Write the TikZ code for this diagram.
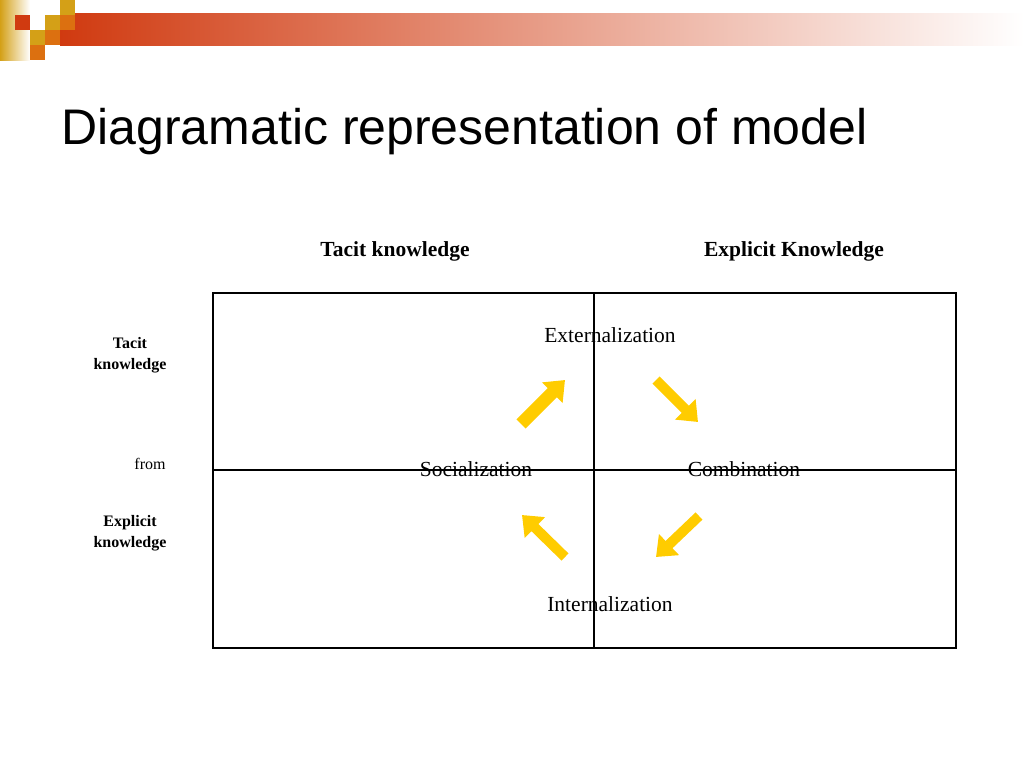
\documentclass[tikz,border=0pt]{standalone}
\usepackage{fontspec}
\setmainfont{Liberation Serif}
\newfontfamily\titlefont{Liberation Sans}
\usetikzlibrary{arrows.meta}
\definecolor{gold}{HTML}{D4A017}
\definecolor{redor}{HTML}{D03A10}
\definecolor{oran}{HTML}{DC7010}
\definecolor{arr}{HTML}{FFCC00}
\begin{document}
\begin{tikzpicture}[x=1pt,y=-1pt,
  lbl/.style={font=\fontsize{21.5}{26}\selectfont},
  hdr/.style={font=\bfseries\fontsize{21.5}{26}\selectfont},
  side/.style={font=\bfseries\fontsize{16}{21}\selectfont,align=center},
  grid/.style={line width=2.6pt},
  yarr/.style={draw=arr,line width=#1,-{Triangle[length=18pt,width=28pt]}}]
\useasboundingbox (0,0) rectangle (1024,768);
% header decoration
\shade[left color=redor,right color=white] (60,14) rectangle (1024,46);
\shade[left color=gold,right color=white] (0,0) rectangle (30,60);
\fill[redor] (15,15) rectangle (30,30);
\fill[gold] (60,0) rectangle (75,15);
\fill[gold] (45,15) rectangle (60,30);
\fill[oran] (60,15) rectangle (75,30);
\fill[gold] (30,30) rectangle (45,45);
\fill[oran] (45,30) rectangle (60,45);
\fill[oran] (30,45) rectangle (45,60);
\node[anchor=west,font=\titlefont\fontsize{50}{56}\selectfont] (title) at (58,132) {Diagramatic representation of model};
% headers
\node[hdr] (tk) at (395,251) {Tacit knowledge};
\node[hdr] (ek) at (794,251) {Explicit Knowledge};
\node[side] (stk) at (130,355) {Tacit\\knowledge};
\node[font=\fontsize{16}{19}\selectfont] (from) at (150,464) {from};
\node[side] (sek) at (130,533) {Explicit\\knowledge};
% grid
\coordinate (tl) at (213,293); \coordinate (br) at (956,648);
\coordinate (mt) at (594,293); \coordinate (mb) at (594,648);
\coordinate (ml) at (213,470); \coordinate (mr) at (956,470);
\draw[grid] (tl) rectangle (br);
\draw[grid] (mt) -- (mb);
\draw[grid] (ml) -- (mr);
% labels
\node[lbl] (ext) at (610,335) {Externalization};
\node[lbl] (soc) at (476,469) {Socialization};
\node[lbl] (com) at (744,469) {Combination};
\node[lbl] (int) at (610,604) {Internalization};
% arrows
\coordinate (a1s) at (521,424); \coordinate (a1e) at (565,380);
\coordinate (a2s) at (656,380); \coordinate (a2e) at (698,422);
\coordinate (a3s) at (699,516); \coordinate (a3e) at (656,557);
\coordinate (a4s) at (565,557); \coordinate (a4e) at (522,515);
\draw[yarr=13pt] (a1s) -- (a1e);
\draw[yarr=10pt] (a2s) -- (a2e);
\draw[yarr=10pt] (a3s) -- (a3e);
\draw[yarr=10pt] (a4s) -- (a4e);
\end{tikzpicture}
\end{document}
